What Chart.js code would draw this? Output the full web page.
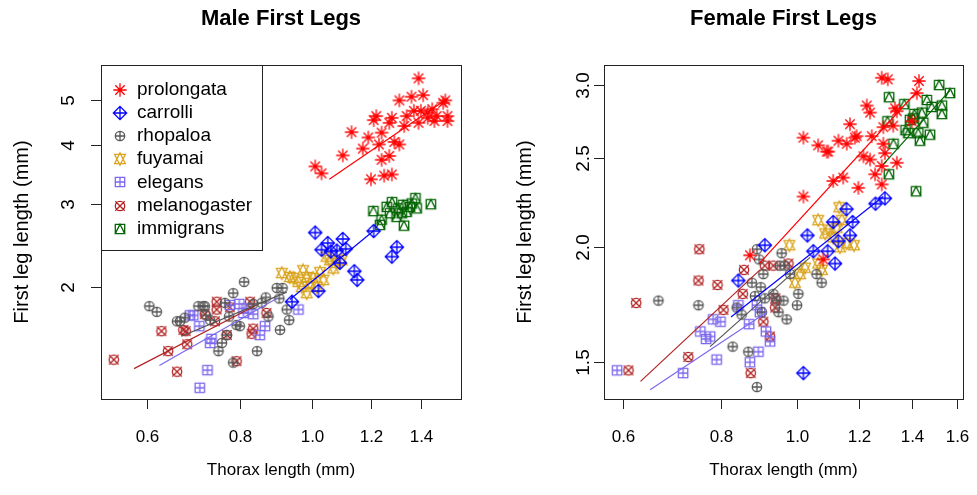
<!DOCTYPE html>
<html>
<head>
<meta charset="utf-8">
<title>First Legs</title>
<script src="https://cdn.jsdelivr.net/npm/chart.js@4.4.1/dist/chart.umd.min.js"></script>
<style>
  html, body { margin: 0; padding: 0; background: #fff; }
  #wrap { position: relative; width: 977px; height: 495px; }
  #maleChart { position: absolute; left: 0; top: 0; }
  #femaleChart { position: absolute; left: 488px; top: 0; }
</style>
</head>
<body>
<div id="wrap">
  <canvas id="maleChart" width="488" height="495"></canvas>
  <canvas id="femaleChart" width="489" height="495"></canvas>
</div>
<script>
// Species, in legend order
const species = ['prolongata', 'carrolli', 'rhopaloa', 'fuyamai', 'elegans', 'melanogaster', 'immigrans'];
const speciesColors = ['#ff0000', '#0000ff', '#555555', '#daa520', '#7b68ee', '#b22222', '#006400'];
const speciesSymbols = ['asterisk', 'diamondPlus', 'circlePlus', 'triangles', 'squarePlus', 'circleCross', 'squareTriangle'];

// Axis ticks
const maleXTicks = [0.6, 0.8, 1.0, 1.2, 1.4];
const maleXTickLabels = ['0.6', '0.8', '1.0', '1.2', '1.4'];
const maleYTicks = [2, 3, 4, 5];
const maleYTickLabels = ['2', '3', '4', '5'];
const femaleXTicks = [0.6, 0.8, 1.0, 1.2, 1.4, 1.6];
const femaleXTickLabels = ['0.6', '0.8', '1.0', '1.2', '1.4', '1.6'];
const femaleYTicks = [1.5, 2.0, 2.5, 3.0];
const femaleYTickLabels = ['1.5', '2.0', '2.5', '3.0'];

// Male data: [thorax length, first leg length] (mm)
const maleProlongata = [[1.39,5.56],[1.31,4.99],[1.36,5.08],[1.41,5.12],[1.51,4.99],[1.50,4.93],[1.22,4.62],[1.21,4.53],[1.28,4.58],[1.27,4.47],[1.37,4.74],[1.40,4.74],[1.43,4.70],[1.45,4.78],[1.47,4.62],[1.52,4.62],[1.52,4.51],[1.39,4.47],[1.34,4.62],[1.33,4.40],[1.46,4.51],[1.43,4.58],[1.13,4.27],[1.24,4.26],[1.19,4.16],[1.17,3.94],[1.23,4.02],[1.29,4.07],[1.31,4.02],[1.24,3.73],[1.27,3.80],[1.10,3.81],[1.01,3.61],[1.03,3.49],[1.20,3.39],[1.25,3.45],[1.28,3.47]];
const maleCarrolli = [[1.01,2.61],[1.05,2.48],[1.03,2.40],[1.10,2.53],[1.11,2.41],[1.08,2.39],[1.06,2.38],[1.21,2.63],[1.30,2.43],[1.28,2.32],[1.14,2.16],[1.15,2.07],[1.02,1.96],[0.94,1.86],[1.09,2.25]];
const maleRhopaloa = [[0.605,1.82],[0.619,1.77],[0.659,1.69],[0.675,1.72],[0.704,1.82],[0.715,1.82],[0.721,1.74],[0.764,1.85],[0.784,1.94],[0.811,2.05],[0.774,1.73],[0.792,1.66],[0.800,1.65],[0.768,1.58],[0.757,1.52],[0.749,1.46],[0.784,1.38],[0.844,1.46],[0.906,1.62],[0.932,1.70],[0.874,1.73],[0.867,1.90],[0.897,1.99],[0.913,1.99],[0.904,1.89],[0.925,1.79],[0.856,1.85],[0.834,1.84],[0.730,1.70],[0.665,1.69],[0.718,1.82]];
const maleFuyamai = [[0.911,2.14],[0.934,2.10],[0.944,2.09],[0.959,2.05],[0.969,2.00],[0.973,2.17],[0.984,2.10],[0.984,1.94],[0.994,2.04],[1.004,2.09],[1.015,2.00],[1.025,2.15],[1.036,2.07],[1.046,2.32],[1.057,2.28],[1.068,2.19],[1.079,2.25],[1.096,2.28]];
const maleElegans = [[0.693,1.74],[0.706,1.65],[0.733,1.55],[0.730,1.52],[0.776,1.83],[0.799,1.84],[0.809,1.76],[0.834,1.75],[0.865,1.65],[0.851,1.58],[0.959,1.79],[0.724,1.33],[0.707,1.22],[0.686,1.74],[0.817,1.80]];
const maleMelanogaster = [[0.542,1.40],[0.628,1.61],[0.672,1.62],[0.677,1.61],[0.641,1.46],[0.680,1.51],[0.659,1.32],[0.718,1.75],[0.745,1.86],[0.745,1.79],[0.741,1.69],[0.776,1.81],[0.826,1.86],[0.869,1.76],[0.834,1.63],[0.830,1.59],[0.769,1.58],[0.792,1.39]];
const maleImmigrans = [[1.209,2.90],[1.240,2.78],[1.273,2.87],[1.281,3.03],[1.306,2.94],[1.326,2.99],[1.340,2.89],[1.354,2.96],[1.377,3.09],[1.382,2.94],[1.329,2.70],[1.260,2.96],[1.444,3.00],[1.299,2.82],[1.320,2.87],[1.361,3.01],[1.234,2.71]];

// Male fitted lines: [[x0, y0], [x1, y1]]
const maleFitProlongata = [[1.055,3.39],[1.50,4.96]];
const maleFitCarrolli = [[0.934,1.88],[1.209,2.63]];
const maleFitRhopaloa = [[0.668,1.57],[0.925,1.95]];
const maleFitElegans = [[0.624,1.36],[0.897,1.89]];
const maleFitMelanogaster = [[0.577,1.34],[0.843,1.83]];

// Female data
const femaleProlongata = [[1.282,3.055],[1.305,3.043],[1.430,3.03],[1.421,2.94],[1.333,2.83],[1.340,2.81],[1.227,2.85],[1.239,2.80],[1.168,2.72],[1.288,2.70],[1.326,2.71],[1.245,2.64],[1.191,2.64],[1.157,2.59],[1.129,2.61],[1.064,2.58],[1.091,2.54],[1.288,2.59],[1.294,2.53],[1.215,2.51],[1.239,2.49],[1.282,2.45],[1.340,2.47],[1.257,2.40],[1.282,2.34],[1.145,2.38],[1.112,2.36],[1.197,2.32],[1.019,2.63],[0.871,1.96],[1.080,1.94],[1.400,2.74],[1.096,2.54],[1.185,2.63],[1.019,2.27]];
const femaleCarrolli = [[0.910,2.01],[0.842,1.84],[1.031,2.06],[1.049,1.98],[1.094,1.98],[1.118,1.92],[1.112,2.13],[1.156,2.20],[1.177,2.13],[1.168,2.06],[1.259,2.23],[1.294,2.26],[1.129,2.03],[1.019,1.46]];
const femaleRhopaloa = [[0.666,1.75],[0.749,1.73],[0.889,1.99],[0.895,1.94],[0.956,1.97],[0.906,1.87],[0.876,1.83],[0.899,1.81],[0.884,1.77],[0.910,1.76],[0.933,1.78],[0.942,1.75],[0.961,1.75],[1.000,1.73],[0.947,1.70],[0.838,1.72],[0.850,1.69],[0.902,1.70],[0.970,1.67],[0.828,1.56],[0.867,1.54],[0.889,1.41],[0.951,1.91],[0.965,1.91],[1.004,1.78],[1.059,1.87],[1.075,1.83],[0.980,1.87]];
const femaleFuyamai = [[0.978,2.01],[1.064,2.14],[1.132,2.21],[1.086,2.07],[1.096,2.09],[1.123,2.10],[1.140,2.14],[1.112,2.05],[1.134,2.00],[1.157,2.02],[1.182,2.01],[1.009,1.87],[0.994,1.83],[1.064,1.92],[1.076,1.89],[1.024,1.90]];
const femaleElegans = [[0.590,1.47],[0.716,1.46],[0.790,1.51],[0.782,1.67],[0.799,1.66],[0.753,1.62],[0.775,1.60],[0.766,1.59],[0.869,1.65],[0.889,1.73],[0.842,1.73],[0.897,1.70],[0.913,1.62],[0.924,1.58],[0.871,1.50],[0.893,1.54]];
const femaleMelanogaster = [[0.610,1.47],[0.624,1.74],[0.727,1.52],[0.751,1.99],[0.749,1.84],[0.792,1.82],[0.856,1.89],[0.853,1.78],[0.806,1.71],[0.910,1.91],[0.933,1.91],[0.975,1.92],[0.939,1.76],[0.938,1.72],[0.906,1.66],[0.924,1.60],[0.873,1.46]];
const femaleImmigrans = [[1.310,2.91],[1.517,3.00],[1.566,2.94],[1.370,2.86],[1.304,2.74],[1.411,2.79],[1.463,2.89],[1.484,2.84],[1.529,2.85],[1.529,2.79],[1.442,2.80],[1.393,2.75],[1.375,2.68],[1.386,2.66],[1.448,2.73],[1.427,2.66],[1.477,2.65],[1.434,2.61],[1.327,2.59],[1.309,2.40],[1.418,2.30],[1.406,2.76]];

// Female fitted lines
const femaleFitProlongata = [[0.895,1.92],[1.421,2.95]];
const femaleFitCarrolli = [[0.824,1.68],[1.288,2.27]];
const femaleFitRhopaloa = [[0.775,1.56],[1.039,1.95]];
const femaleFitElegans = [[0.650,1.40],[0.915,1.70]];
const femaleFitMelanogaster = [[0.632,1.43],[0.897,1.89]];
const femaleFitImmigrans = [[1.288,2.46],[1.566,2.96]];

const FONT = '"Liberation Sans", Arial, Helvetica, sans-serif';

// R-like plotting symbols (pch 8..14) drawn into small canvases
function makeSymbol(kind, color) {
    const size = 18;
    const c = document.createElement('canvas');
    c.width = size;
    c.height = size;
    const g = c.getContext('2d');
    g.translate(size / 2, size / 2);
    g.strokeStyle = color;
    g.lineWidth = 1.3;
    const u = 4.7;
    const v = u * Math.SQRT2;
    const seg = (x0, y0, x1, y1) => { g.moveTo(x0, y0); g.lineTo(x1, y1); };
    g.beginPath();
    if (kind === 'asterisk') {
        seg(-u, -u, u, u); seg(-u, u, u, -u);
        seg(-v, 0, v, 0); seg(0, -v, 0, v);
    } else if (kind === 'diamondPlus') {
        g.moveTo(0, -v); g.lineTo(v, 0); g.lineTo(0, v); g.lineTo(-v, 0); g.closePath();
        seg(-v, 0, v, 0); seg(0, -v, 0, v);
    } else if (kind === 'circlePlus') {
        g.arc(0, 0, u, 0, Math.PI * 2);
        seg(-u, 0, u, 0); seg(0, -u, 0, u);
    } else if (kind === 'triangles') {
        const r = 1.555 * u * 0.85, yc = 1.166 * u * 0.85, xc = 1.347 * u * 0.85;
        g.moveTo(0, -r); g.lineTo(xc, yc); g.lineTo(-xc, yc); g.closePath();
        g.moveTo(0, r); g.lineTo(xc, -yc); g.lineTo(-xc, -yc); g.closePath();
    } else if (kind === 'squarePlus') {
        g.rect(-u, -u, 2 * u, 2 * u);
        seg(-u, 0, u, 0); seg(0, -u, 0, u);
    } else if (kind === 'circleCross') {
        g.arc(0, 0, u, 0, Math.PI * 2);
        g.moveTo(-u, -u); g.lineTo(u, u); g.moveTo(-u, u); g.lineTo(u, -u);
    } else if (kind === 'squareTriangle') {
        g.rect(-u, -u, 2 * u, 2 * u);
        g.moveTo(0, -u); g.lineTo(u, u); g.lineTo(-u, u); g.closePath();
    }
    g.stroke();
    return c;
}

const symbolImages = species.map((s, i) => makeSymbol(speciesSymbols[i], speciesColors[i]));

function toXY(pairs) {
    return pairs.map(p => ({ x: p[0], y: p[1] }));
}

function buildDatasets(pointSets, fitSets) {
    const sets = [];
    // fitted lines first so they sit on top of the points
    species.forEach((name, i) => {
        if (!fitSets[i]) return;
        sets.push({
            label: name + ' fit',
            data: toXY(fitSets[i]),
            showLine: true,
            borderColor: speciesColors[i],
            borderWidth: 1.2,
            pointRadius: 0,
            order: 0,
            clip: false,
            isFit: true
        });
    });
    species.forEach((name, i) => {
        sets.push({
            label: name,
            data: toXY(pointSets[i]),
            pointStyle: symbolImages[i],
            pointRadius: 6,
            order: 1,
            clip: false,
            speciesIndex: i
        });
    });
    return sets;
}

// Draws the R style frame, axes, titles and legend
const rStylePlugin = {
    id: 'rStyle',
    afterDraw(chart, args, opts) {
        const ctx = chart.ctx;
        const area = chart.chartArea;
        const xs = chart.scales.x;
        const ys = chart.scales.y;
        ctx.save();
        ctx.strokeStyle = '#222';
        ctx.lineWidth = 1;
        ctx.strokeRect(Math.round(area.left) + 0.5, Math.round(area.top) + 0.5,
            Math.round(area.right - area.left), Math.round(area.bottom - area.top));

        ctx.fillStyle = '#000';
        ctx.font = '17px ' + FONT;
        ctx.textAlign = 'center';
        ctx.textBaseline = 'middle';

        // bottom axis
        opts.xTicks.forEach((v, i) => {
            const px = Math.round(xs.getPixelForValue(v)) + 0.5;
            ctx.beginPath();
            ctx.moveTo(px, Math.round(area.bottom));
            ctx.lineTo(px, Math.round(area.bottom) + opts.tickLen);
            ctx.stroke();
            ctx.fillText(opts.xTickLabels[i], px, opts.xLabelY);
        });

        // left axis, labels parallel to the axis
        ctx.font = '19px ' + FONT;
        opts.yTicks.forEach((v, i) => {
            const py = Math.round(ys.getPixelForValue(v)) + 0.5;
            ctx.beginPath();
            ctx.moveTo(Math.round(area.left) - opts.tickLen, py);
            ctx.lineTo(Math.round(area.left), py);
            ctx.stroke();
            ctx.save();
            ctx.translate(opts.yLabelX, py);
            ctx.rotate(-Math.PI / 2);
            ctx.fillText(opts.yTickLabels[i], 0, 0);
            ctx.restore();
        });

        const cx = (area.left + area.right) / 2;
        ctx.font = '17px ' + FONT;
        ctx.fillText(opts.xTitle, cx, opts.xTitleY);
        ctx.save();
        ctx.font = '20px ' + FONT;
        ctx.translate(opts.yTitleX, (area.top + area.bottom) / 2);
        ctx.rotate(-Math.PI / 2);
        ctx.fillText(opts.yTitle, 0, 0);
        ctx.restore();

        ctx.font = 'bold 22px ' + FONT;
        ctx.fillText(opts.title, cx, opts.titleY);

        if (opts.legend) {
            const lg = opts.legend;
            ctx.fillStyle = '#fff';
            ctx.fillRect(lg.left, lg.top, lg.right - lg.left, lg.bottom - lg.top);
            ctx.strokeStyle = '#222';
            ctx.strokeRect(lg.left + 0.5, lg.top + 0.5, lg.right - lg.left, lg.bottom - lg.top);
            ctx.font = '19px ' + FONT;
            ctx.textAlign = 'left';
            ctx.fillStyle = '#000';
            chart.data.datasets.filter(d => !d.isFit).forEach((d, k) => {
                const y = lg.firstRow + k * lg.rowStep;
                const img = symbolImages[d.speciesIndex];
                ctx.drawImage(img, Math.round(lg.symbolX - img.width / 2), Math.round(y - img.height / 2));
                ctx.fillText(d.label, lg.textX, y);
            });
        }
        ctx.restore();
    }
};

function makeChart(canvasId, datasets, ranges, padding, axisOpts) {
    return new Chart(document.getElementById(canvasId), {
        type: 'scatter',
        data: { datasets: datasets },
        options: {
            responsive: false,
            animation: false,
            events: [],
            layout: { padding: padding },
            scales: {
                x: { type: 'logarithmic', display: false, bounds: 'data', min: ranges.xMin, max: ranges.xMax },
                y: { type: 'logarithmic', display: false, bounds: 'data', min: ranges.yMin, max: ranges.yMax }
            },
            plugins: {
                legend: { display: false },
                tooltip: { enabled: false },
                rStyle: axisOpts
            }
        },
        plugins: [rStylePlugin]
    });
}

makeChart('maleChart',
    buildDatasets(
        [maleProlongata, maleCarrolli, maleRhopaloa, maleFuyamai, maleElegans, maleMelanogaster, maleImmigrans],
        [maleFitProlongata, maleFitCarrolli, maleFitRhopaloa, null, maleFitElegans, maleFitMelanogaster, null]),
    { xMin: 0.521, xMax: 1.585, yMin: 1.1546, yMax: 5.935 },
    { left: 101, right: 27, top: 65, bottom: 96 },
    {
        xTicks: maleXTicks, xTickLabels: maleXTickLabels,
        yTicks: maleYTicks, yTickLabels: maleYTickLabels,
        tickLen: 10, xLabelY: 437, yLabelX: 69,
        xTitle: 'Thorax length (mm)', xTitleY: 470,
        yTitle: 'First leg length (mm)', yTitleX: 22,
        title: 'Male First Legs', titleY: 19,
        legend: { left: 101, top: 65, right: 262, bottom: 250, firstRow: 89.5, rowStep: 23.2, symbolX: 120, textX: 137 }
    });

makeChart('femaleChart',
    buildDatasets(
        [femaleProlongata, femaleCarrolli, femaleRhopaloa, femaleFuyamai, femaleElegans, femaleMelanogaster, femaleImmigrans],
        [femaleFitProlongata, femaleFitCarrolli, femaleFitRhopaloa, null, femaleFitElegans, femaleFitMelanogaster, femaleFitImmigrans]),
    { xMin: 0.5678, xMax: 1.627, yMin: 1.3684, yMax: 3.154 },
    { left: 116, right: 14, top: 65, bottom: 96 },
    {
        xTicks: femaleXTicks, xTickLabels: femaleXTickLabels,
        yTicks: femaleYTicks, yTickLabels: femaleYTickLabels,
        tickLen: 10, xLabelY: 437, yLabelX: 96,
        xTitle: 'Thorax length (mm)', xTitleY: 470,
        yTitle: 'First leg length (mm)', yTitleX: 37,
        title: 'Female First Legs', titleY: 19,
        legend: null
    });
</script>
</body>
</html>
